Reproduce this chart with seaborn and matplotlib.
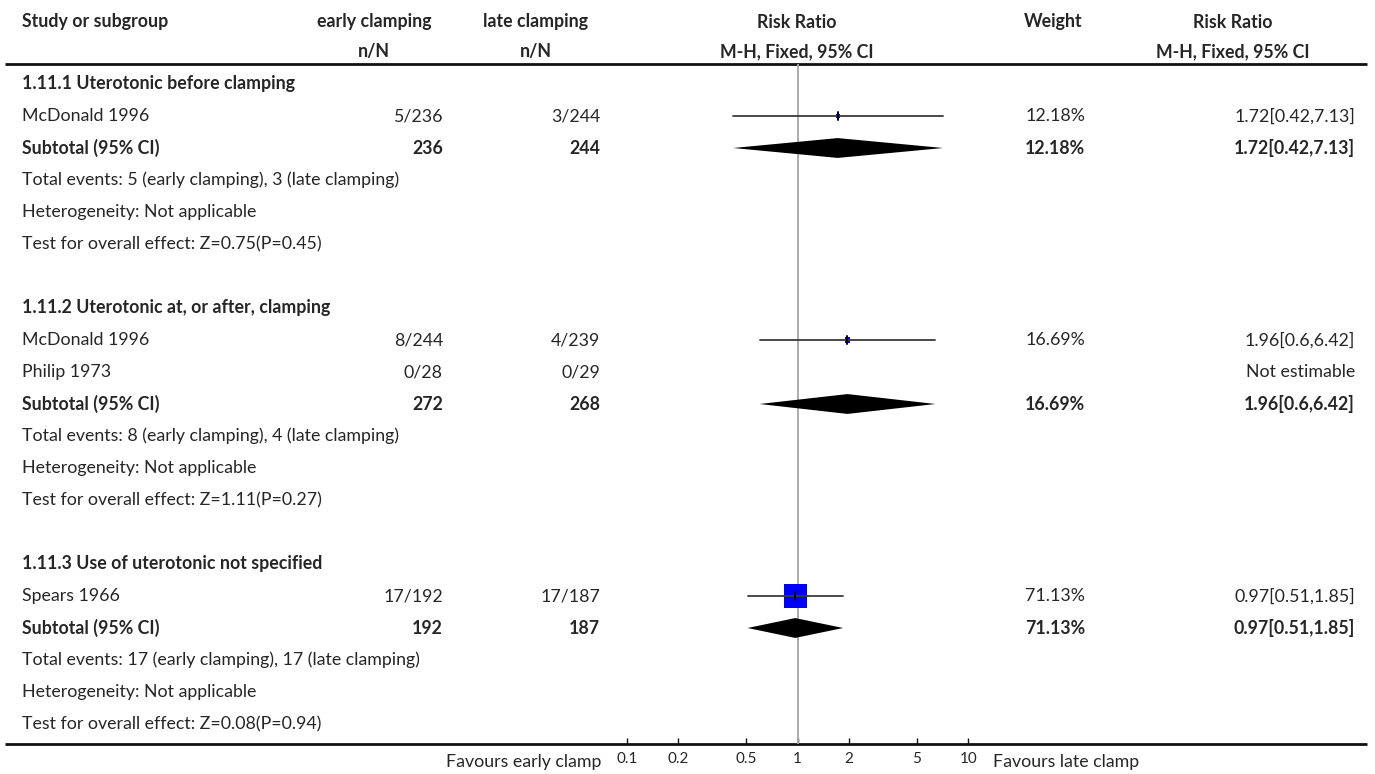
import numpy as np
import matplotlib
matplotlib.use("Agg")
import matplotlib.pyplot as plt
import seaborn as sns

# ---- data -------------------------------------------------------------
groups = ["1.11.1 Uterotonic before clamping",
          "1.11.2 Uterotonic at, or after, clamping",
          "1.11.3 Use of uterotonic not specified"]
group_of_study = [0, 1, 1, 2]
studies = ["McDonald 1996", "McDonald 1996", "Philip 1973", "Spears 1966"]
early_events = [5, 8, 0, 17]
early_totals = [236, 244, 28, 192]
late_events = [3, 4, 0, 17]
late_totals = [244, 239, 29, 187]
study_rr = [1.72, 1.96, np.nan, 0.97]
study_lo = [0.42, 0.6, np.nan, 0.51]
study_hi = [7.13, 6.42, np.nan, 1.85]
study_weight = [12.18, 16.69, np.nan, 71.13]

sub_rr = [1.72, 1.96, 0.97]
sub_lo = [0.42, 0.6, 0.51]
sub_hi = [7.13, 6.42, 1.85]
sub_weight = [12.18, 16.69, 71.13]
sub_z = [0.75, 1.11, 0.08]
sub_p = [0.45, 0.27, 0.94]

arm_labels = ["early clamping", "late clamping"]
tick_values = [0.1, 0.2, 0.5, 1, 2, 5, 10]
tick_labels = ["0.1", "0.2", "0.5", "1", "2", "5", "10"]
favours_left = "Favours early clamp"
favours_right = "Favours late clamp"

# ---- style ------------------------------------------------------------
sns.set_theme(style="white")
plt.rcParams["font.family"] = ["Lato", "DejaVu Sans"]
FS = 12.8
FSB = 12.8
W, H = 1375, 774
fig = plt.figure(figsize=(W / 100, H / 100), dpi=100)

# background axes in pixel units for the table
bg = fig.add_axes([0, 0, 1, 1])
bg.set_xlim(0, W)
bg.set_ylim(H, 0)
bg.axis("off")

ROW0, ROWH = 84, 32


def ry(i):
    return ROW0 + ROWH * i


X_STUDY = 22
X_EARLY_R, X_EARLY_H = 443, 374
X_LATE_R, X_LATE_H = 600, 536
X_PLOT_C = 797
X_WEIGHT_R, X_WEIGHT_H = 1085, 1053
X_RR_R, X_RR_H = 1355, 1233

# header
hb = dict(fontsize=FSB, fontweight="bold", va="center")
bg.text(X_STUDY, 22, "Study or subgroup", ha="left", **hb)
bg.text(X_EARLY_H, 22, arm_labels[0], ha="center", **hb)
bg.text(X_EARLY_H, 52, "n/N", ha="center", **hb)
bg.text(X_LATE_H, 22, arm_labels[1], ha="center", **hb)
bg.text(X_LATE_H, 52, "n/N", ha="center", **hb)
bg.text(X_PLOT_C, 22, "Risk Ratio", ha="center", **hb)
bg.text(X_PLOT_C, 52, "M-H, Fixed, 95% CI", ha="center", **hb)
bg.text(X_WEIGHT_H, 22, "Weight", ha="center", **hb)
bg.text(X_RR_H, 22, "Risk Ratio", ha="center", **hb)
bg.text(X_RR_H, 52, "M-H, Fixed, 95% CI", ha="center", **hb)
bg.plot([5, 1367], [63.5, 63.5], color="#111111", lw=2, solid_capstyle="butt")
bg.plot([5, 1367], [744, 744], color="#111111", lw=2, solid_capstyle="butt")

# forest axes: log scale, rows as y units
top_px, bot_px = 63.5, 744
x0_px, x1_px = 626.7, 968.3
ax = fig.add_axes([x0_px / W, 1 - bot_px / H, (x1_px - x0_px) / W, (bot_px - top_px) / H])
ax.set_facecolor("none")
ax.set_xscale("log")
for s in ax.spines.values():
    s.set_visible(False)
ax.set_xticks(tick_values)
ax.set_xticklabels(tick_labels)
ax.minorticks_off()
ax.set_yticks([])
ax.tick_params(axis="x", direction="in", length=4, width=1, color="#111111",
               labelsize=11, pad=6, bottom=True)
ax.axvline(1, color="#a6a6a6", lw=1.3, zorder=1)

reg = dict(fontsize=FS, va="center")
bold = dict(fontsize=FSB, va="center", fontweight="bold")

row = 0
sq_x, sq_y, sq_s = [], [], []
for g, gname in enumerate(groups):
    bg.text(X_STUDY, ry(row), gname, ha="left", **bold)
    row += 1
    idx = [k for k, gg in enumerate(group_of_study) if gg == g]
    for k in idx:
        y = ry(row)
        bg.text(X_STUDY, y, studies[k], ha="left", **reg)
        bg.text(X_EARLY_R, y, f"{early_events[k]}/{early_totals[k]}", ha="right", **reg)
        bg.text(X_LATE_R, y, f"{late_events[k]}/{late_totals[k]}", ha="right", **reg)
        if np.isnan(study_rr[k]):
            bg.text(X_RR_R, y, "Not estimable", ha="right", **reg)
        else:
            bg.text(X_WEIGHT_R, y, f"{study_weight[k]:.2f}%", ha="right", **reg)
            bg.text(X_RR_R, y, f"{study_rr[k]:g}[{study_lo[k]:g},{study_hi[k]:g}]",
                    ha="right", **reg)
            side_pt = study_weight[k] * 0.3234 * 0.72
            sq_x.append(study_rr[k]); sq_y.append(row); sq_s.append(side_pt ** 2)
            ax.plot([study_lo[k], study_hi[k]], [row, row], color="#3a3a3a", lw=1.3, zorder=4)
            ax.plot([study_rr[k], study_rr[k]], [row - 0.13, row + 0.13], color="black",
                    lw=1.4, zorder=5)
        row += 1
    # subtotal
    y = ry(row)
    bg.text(X_STUDY, y, "Subtotal (95% CI)", ha="left", **bold)
    bg.text(X_EARLY_R, y, f"{sum(early_totals[k] for k in idx)}", ha="right", **bold)
    bg.text(X_LATE_R, y, f"{sum(late_totals[k] for k in idx)}", ha="right", **bold)
    bg.text(X_WEIGHT_R, y, f"{sub_weight[g]:.2f}%", ha="right", **bold)
    bg.text(X_RR_R, y, f"{sub_rr[g]:g}[{sub_lo[g]:g},{sub_hi[g]:g}]", ha="right", **bold)
    hh = 0.31
    ax.fill([sub_lo[g], sub_rr[g], sub_hi[g], sub_rr[g]],
            [row, row - hh, row, row + hh], color="black", lw=0, zorder=4)
    row += 1
    ev_e = sum(early_events[k] for k in idx)
    ev_l = sum(late_events[k] for k in idx)
    bg.text(X_STUDY, ry(row),
            f"Total events: {ev_e} ({arm_labels[0]}), {ev_l} ({arm_labels[1]})",
            ha="left", **reg)
    row += 1
    bg.text(X_STUDY, ry(row), "Heterogeneity: Not applicable", ha="left", **reg)
    row += 1
    bg.text(X_STUDY, ry(row), f"Test for overall effect: Z={sub_z[g]:.2f}(P={sub_p[g]:.2f})",
            ha="left", **reg)
    row += 2

sns.scatterplot(x=sq_x, y=sq_y, s=sq_s, marker="s", color="#0000ff",
                edgecolor="none", linewidth=0, ax=ax, zorder=3, legend=False)
ax.set_xlim(tick_values[0], tick_values[-1])
ax.set_ylim((bot_px - ROW0) / ROWH, (top_px - ROW0) / ROWH)

bg.text(601, 762, favours_left, ha="right", va="center", fontsize=FS)
bg.text(993, 762, favours_right, ha="left", va="center", fontsize=FS)

fig.savefig("out.png", dpi=100)
